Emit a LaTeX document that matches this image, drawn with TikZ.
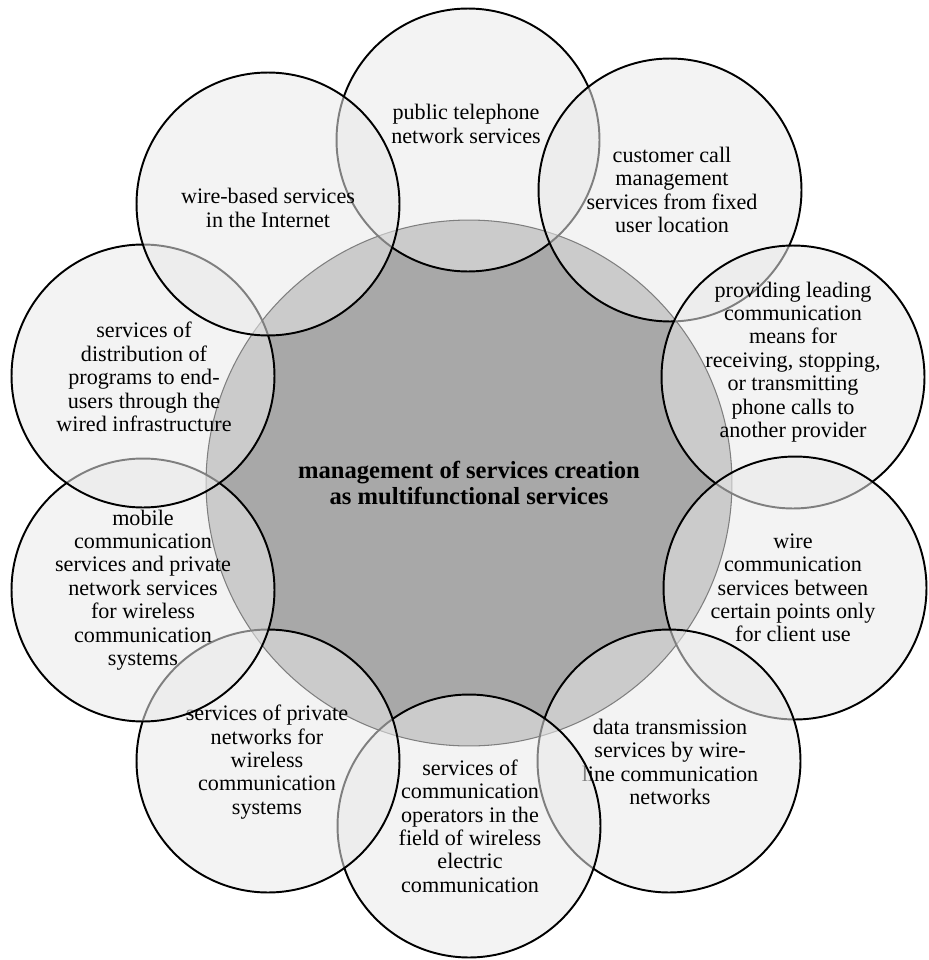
\documentclass[tikz,border=0pt]{standalone}
\usepackage{fontspec}
\setmainfont{Liberation Serif}

\begin{document}
\begin{tikzpicture}
[x=0.02cm,y=-0.02cm
,core/.style={circle,draw=black,line width=0.6pt,fill=black!34,minimum size=10.52cm,inner sep=0pt,align=center,font=\fontsize{14}{14.5}\selectfont\bfseries}
,ring/.style={circle,draw=black,line width=1.1pt,fill=black!8.5,fill opacity=0.55,minimum size=5.26cm,inner sep=0pt}
,txt/.style={align=center,inner sep=0pt,font=\fontsize{12.6}{13.3}\selectfont}
]
\useasboundingbox (0,0) rectangle (929,960);
\node[core] (core) at (469,483) {management of services creation\\as multifunctional services};
\node[ring] (pub) at (468,140) {};
\node[txt] (pubt) at (466,124) {public telephone\\network services};
\node[ring] (cust) at (670,190) {};
\node[txt] (custt) at (672,190) {customer call\\management\\services from fixed\\user location};
\node[ring] (prov) at (793,377) {};
\node[txt] (provt) at (793,362) {providing leading\\communication\\means for\\receiving, stopping,\\or transmitting\\phone calls to\\another provider};
\node[ring] (wire) at (795,588) {};
\node[txt] (wiret) at (793,588) {wire\\communication\\services between\\certain points only\\for client use};
\node[ring] (data) at (669,761) {};
\node[txt] (datat) at (670,762) {data transmission\\services by wire-\\line communication\\networks};
\node[ring] (oper) at (469,826) {};
\node[txt] (opert) at (470,826) {services of\\communication\\operators in the\\field of wireless\\electric\\communication};
\node[ring] (priv) at (268,761) {};
\node[txt] (privt) at (267,762) {services of private\\networks for\\wireless\\communication\\systems};
\node[ring] (mob) at (143,590) {};
\node[txt] (mobt) at (143,590) {mobile\\communication\\services and private\\network services\\for wireless\\communication\\systems};
\node[ring] (dist) at (143,376) {};
\node[txt] (distt) at (144,377) {services of\\distribution of\\programs to end-\\users through the\\wired infrastructure};
\node[ring] (web) at (268,204) {};
\node[txt] (webt) at (268,208) {wire-based services\\in the Internet};
\end{tikzpicture}
\end{document}
